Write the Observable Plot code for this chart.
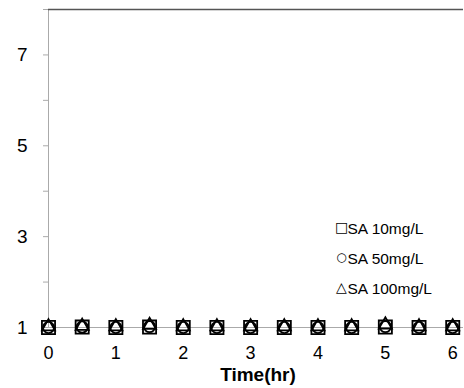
<!DOCTYPE html>
<html>
<head>
<meta charset="utf-8">
<script src="https://cdn.jsdelivr.net/npm/d3@7"></script>
<script src="https://cdn.jsdelivr.net/npm/@observablehq/plot@0.6"></script>
<style>
  html, body { margin: 0; padding: 0; background: #fff; }
  #chart { width: 464px; height: 388px; }
  svg { font-family: "Liberation Sans", Arial, sans-serif; }
</style>
</head>
<body>
<div id="chart"></div>
<script>
const times = [0, 0.5, 1, 1.5, 2, 2.5, 3, 3.5, 4, 4.5, 5, 5.5, 6];
const sa10  = [1.00, 1.01, 1.00, 1.01, 1.00, 1.00, 1.00, 1.00, 1.00, 1.00, 1.01, 1.00, 1.00];
const sa50  = [1.00, 1.01, 1.00, 1.02, 1.00, 1.00, 1.00, 1.00, 1.00, 1.00, 1.02, 1.00, 1.00];
const sa100 = [1.02, 1.03, 1.02, 1.05, 1.02, 1.02, 1.02, 1.02, 1.02, 1.02, 1.06, 1.02, 1.02];
const seriesNames = ["SA 10mg/L", "SA 50mg/L", "SA 100mg/L"];
const seriesSymbols = ["square", "circle", "triangle"];
const legendGlyphs = ["□", "○", "△"];
const xTicks = [0, 1, 2, 3, 4, 5, 6];
const yTicksMajor = [1, 3, 5, 7];
const yTicksAll = [1, 2, 3, 4, 5, 6, 7, 8];

const seriesValues = [sa10, sa50, sa100];
const sizes = [7.4, 5.6, 4.8];
const glyphSizes = [14, 12, 14];

const dotMarks = seriesValues.map((vals, s) =>
  Plot.dot(vals.map((v, i) => ({time: times[i], value: v})), {
    x: "time", y: "value", symbol: seriesSymbols[s], r: sizes[s],
    stroke: "#000", strokeWidth: 1.8, fill: "none"
  })
);

const legendMarks = seriesNames.flatMap((name, i) => [
  Plot.text([legendGlyphs[i]], {
    text: d => d,
    frameAnchor: "top-left",
    dx: 293,
    dy: 213 + i * 30,
    textAnchor: "middle",
    fontSize: glyphSizes[i],
    fontFamily: "DejaVu Sans",
    fill: "#000"
  }),
  Plot.text([name], {
    text: d => d,
    frameAnchor: "top-left",
    dx: 299,
    dy: 213 + i * 30,
    textAnchor: "start",
    fontSize: 15.5,
    fill: "#000"
  })
]);

const chart = Plot.plot({
  width: 464,
  height: 388,
  marginLeft: 48,
  marginRight: 1,
  marginTop: 9,
  marginBottom: 61,
  style: {fontFamily: "Liberation Sans, Arial, sans-serif", background: "#fff", fontSize: "18px"},
  x: {type: "linear", domain: [0, 6.16], axis: null},
  y: {type: "linear", domain: [1, 8], axis: null},
  marks: [
    Plot.ruleY([1], {stroke: "#aaa", strokeWidth: 1}),
    Plot.ruleX([0], {stroke: "#aaa", strokeWidth: 1}),
    Plot.ruleY([8], {stroke: "#555", strokeWidth: 1.5}),
    Plot.axisY({ticks: yTicksAll, tickSize: 5, tickFormat: d => yTicksMajor.includes(d) ? String(d) : "", tickPadding: 16, fontSize: 19, stroke: "#aaa", strokeOpacity: 1, color: "#000", label: null}),
    Plot.axisX({ticks: xTicks, tickSize: 0, tickPadding: 19, fontSize: 18, tickFormat: d3.format("d"), color: "#000", label: null}),
    Plot.text(["Time(hr)"], {text: d => d, frameAnchor: "bottom", dy: 53, dx: 2, fontSize: 19, fontWeight: "bold", fill: "#000"}),
    ...dotMarks,
    ...legendMarks
  ]
});
document.getElementById("chart").appendChild(chart);
</script>
</body>
</html>
